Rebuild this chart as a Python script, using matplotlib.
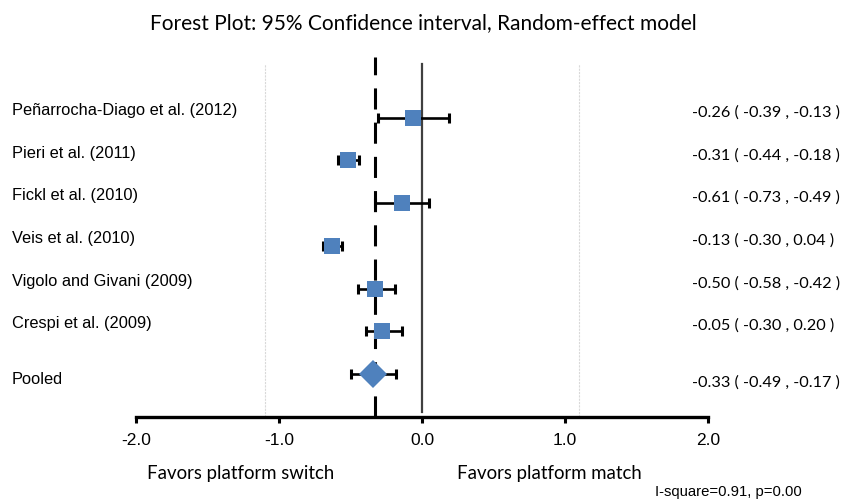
import matplotlib
matplotlib.use("Agg")
import matplotlib.pyplot as plt
from matplotlib import transforms

# study rows, top to bottom
studies = ['Peñarrocha-Diago et al. (2012)', 'Pieri et al. (2011)', 'Fickl et al. (2010)',
           'Veis et al. (2010)', 'Vigolo and Givani (2009)', 'Crespi et al. (2009)']
effect = [-0.06, -0.52, -0.14, -0.63, -0.33, -0.28]
ci_low = [-0.31, -0.59, -0.33, -0.69, -0.45, -0.39]
ci_high = [0.19, -0.44, 0.05, -0.56, -0.19, -0.14]
ci_text = ['-0.26 ( -0.39 , -0.13 )', '-0.31 ( -0.44 , -0.18 )', '-0.61 ( -0.73 , -0.49 )',
           '-0.13 ( -0.30 , 0.04 )', '-0.50 ( -0.58 , -0.42 )', '-0.05 ( -0.30 , 0.20 )']

pooled_label = 'Pooled'
pooled_effect = -0.34
pooled_low = -0.50
pooled_high = -0.18
pooled_text = '-0.33 ( -0.49 , -0.17 )'
pooled_line = -0.33

xticks = [-2.0, -1.0, 0.0, 1.0, 2.0]
grid_x = [-1.1, 1.1]

blue = '#4F81BD'
calib = ['Lato', 'DejaVu Sans']
arial = ['Liberation Sans', 'DejaVu Sans']

fig = plt.figure(figsize=(8.46, 5.02), dpi=100)
W, H = 846, 502
ax = fig.add_axes([136 / W, (H - 418) / H, 572 / W, 362 / H])

n = len(studies)
rows = list(range(n, 0, -1))  # 6..1, pooled at 0

ax.set_xlim(-2.0, 2.0)
ax.set_ylim(-1.007, 7.47)

for gx in grid_x:
    ax.plot([gx, gx], [-1.007, 7.26], color='#d9d9d9', lw=0.8, ls=(0, (2, 1)), zorder=0)

ax.plot([0, 0], [-0.9, 7.26], color='#404040', lw=1.6, zorder=1)
ax.plot([pooled_line, pooled_line], [-1.007, 7.42], color='black', lw=2.2,
        dashes=(6.9, 4.3), zorder=1, clip_on=False)

xerr_lo = [e - l for e, l in zip(effect, ci_low)]
xerr_hi = [h - e for e, h in zip(effect, ci_high)]
ax.errorbar(effect, rows, xerr=[xerr_lo, xerr_hi], fmt='none', ecolor='black',
            elinewidth=1.9, capsize=3.6, capthick=2.2, zorder=2)
ax.plot(effect, rows, 's', color=blue, markersize=11, zorder=3, markeredgewidth=0)

ax.errorbar([pooled_effect], [0], xerr=[[pooled_effect - pooled_low], [pooled_high - pooled_effect]],
            fmt='none', ecolor='black', elinewidth=1.9, capsize=3.6, capthick=2.2, zorder=2)
ax.plot([pooled_effect], [0], 'D', color=blue, markersize=14, zorder=3, markeredgewidth=0)

# labels on both sides, anchored to row positions
left_tr = transforms.blended_transform_factory(fig.transFigure, ax.transData)
for i, (name, txt) in enumerate(zip(studies, ci_text)):
    y = rows[i]
    ax.text(12 / W, y, name, transform=transforms.offset_copy(left_tr, fig=fig, y=6, units='points'),
            ha='left', va='center', fontsize=11.8, family=arial)
    ax.text(692 / W, y, txt, transform=transforms.offset_copy(left_tr, fig=fig, y=4.5, units='points'),
            ha='left', va='center', fontsize=11.7, family=calib)
ax.text(12 / W, 0, pooled_label, transform=transforms.offset_copy(left_tr, fig=fig, y=-3.6, units='points'),
        ha='left', va='center', fontsize=11.8, family=arial)
ax.text(692 / W, 0, pooled_text, transform=transforms.offset_copy(left_tr, fig=fig, y=-5.5, units='points'),
        ha='left', va='center', fontsize=11.7, family=calib)

for side in ['top', 'right', 'left']:
    ax.spines[side].set_visible(False)
ax.spines['bottom'].set_linewidth(2.4)
ax.set_yticks([])
ax.set_xticks(xticks)
ax.set_xticklabels(['%.1f' % v for v in xticks], family=arial, fontsize=12.5)
ax.tick_params(axis='x', direction='out', length=4.5, width=2.2, pad=6)

fig.text(423 / W, 1 - 23 / H, 'Forest Plot: 95% Confidence interval, Random-effect model',
         ha='center', va='center', fontsize=15, family=calib)
fig.text(147 / W, 1 - 474 / H, 'Favors platform switch', ha='left', va='center',
         fontsize=13.4, family=calib)
fig.text(457 / W, 1 - 474 / H, 'Favors platform match', ha='left', va='center',
         fontsize=13.4, family=calib)
fig.text(802 / W, 1 - 492 / H, 'I-square=0.91, p=0.00', ha='right', va='center',
         fontsize=10.7, family=arial)

fig.savefig('out.png', dpi=100)
